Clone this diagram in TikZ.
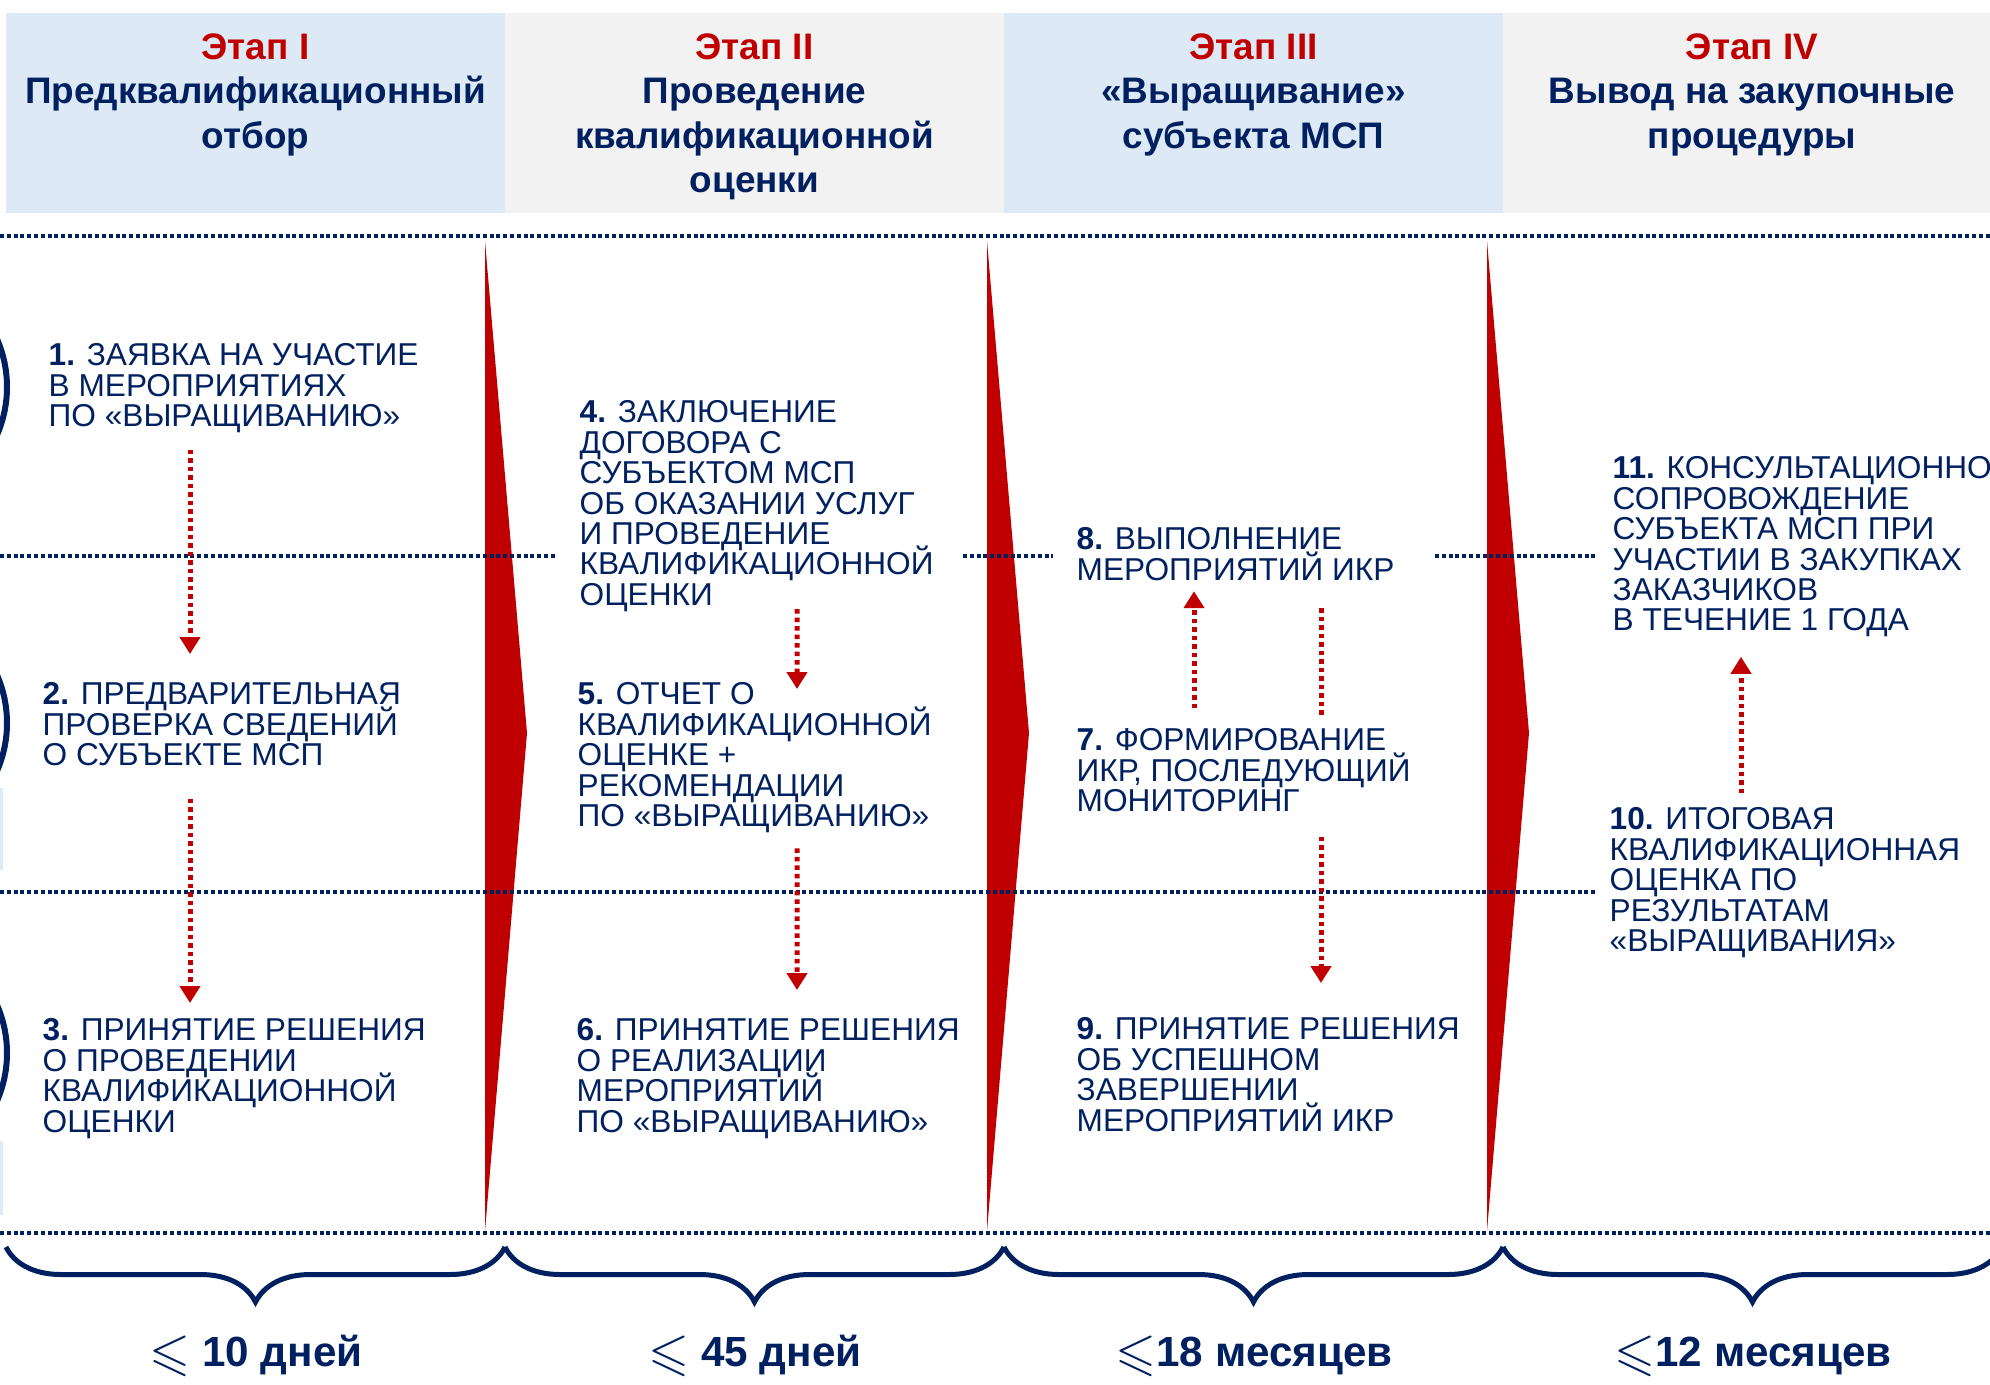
\documentclass[tikz,border=0pt]{standalone}
\usepackage{fontspec}
\setmainfont{Liberation Sans}
\usepackage{amssymb}
\usepackage{graphicx}
\usetikzlibrary{arrows.meta,decorations.pathreplacing}

\definecolor{navy}{HTML}{002060}
\definecolor{redc}{HTML}{C00000}
\definecolor{hdrblue}{HTML}{DDE9F5}
\definecolor{hdrgray}{HTML}{F2F2F2}

\newcommand{\stepfont}{\fontsize{9}{8.65}\selectfont\lineskiplimit=-\maxdimen}
\newcommand{\headfont}{\fontsize{10.5}{12.6}\selectfont\bfseries}
\newcommand{\termfont}{\fontsize{12}{14}\selectfont\bfseries}
\newcommand{\stagename}[1]{\textcolor{redc}{#1}}
\newcommand{\atmost}{\raisebox{-0.12ex}{\scalebox{1.25}{$\leqslant$}}}

\tikzset{
	item/.style={anchor=north west, inner sep=0pt, align=left, text=navy, font=\stepfont},
	head/.style={anchor=north, inner sep=0pt, align=center, text=navy, font=\headfont},
	term/.style={inner sep=0pt, text=navy, font=\termfont},
	grid/.style={navy, line width=0.33mm, dash pattern=on 0.4mm off 0.28mm},
	flow/.style={redc, line width=0.5mm, dash pattern=on 0.45mm off 0.4mm, -{Triangle[width=2mm,length=1.7mm]}},
	span/.style={navy, line width=0.5mm, decorate, decoration={brace, mirror, amplitude=5.5mm}}
}

\begin{document}
\begin{tikzpicture}[x=0.1mm, y=-0.1mm]
		%%%%% FRAME %%%%%
		\useasboundingbox (0, 0) rectangle (1990, 1384);
		\clip (0, 0) rectangle (1990, 1384);
		
		%%%%% HEADER %%%%%
		\fill[hdrblue] (6, 13) rectangle (505, 213);
		\fill[hdrgray] (505, 13) rectangle (1004, 213);
		\fill[hdrblue] (1004, 13) rectangle (1503, 213);
		\fill[hdrgray] (1503, 13) rectangle (2002, 213);
		
		\node[head] (h1) at (255.5, 33) {\stagename{Этап I}\\Предквалификационный\\отбор};
		\node[head] (h2) at (754.5, 33) {\stagename{Этап II}\\Проведение\\квалификационной\\оценки};
		\node[head] (h3) at (1253.5, 33) {\stagename{Этап III}\\«Выращивание»\\субъекта МСП};
		\node[head] (h4) at (1752, 33) {\stagename{Этап IV}\\Вывод на закупочные\\процедуры};
		
		%%%%% LEFT EDGE %%%%%
		\draw[navy, line width=0.6mm] (-113, 387) circle [radius=12mm];
		\draw[navy, line width=0.6mm] (-113, 723) circle [radius=12mm];
		\draw[navy, line width=0.6mm] (-113, 1053) circle [radius=12mm];
		\fill[hdrblue] (-10, 788) rectangle (3, 870);
		\fill[hdrblue] (-10, 1141) rectangle (3, 1215);
		
		%%%%% CHEVRONS %%%%%
		\foreach \x in {485, 987, 1487}
			\fill[redc] (\x, 241) -- (\x+42, 733) -- (\x, 1231) -- cycle;
		
		%%%%% GRID %%%%%
		\draw[grid] (0, 236) -- (1990, 236);
		\draw[grid] (0, 556) -- (555, 556);
		\draw[grid] (963, 556) -- (1053, 556);
		\draw[grid] (1435, 556) -- (1598, 556);
		\draw[grid] (0, 892) -- (1595, 892);
		\draw[grid] (0, 1233) -- (1990, 1233);
		
		%%%%% STEPS %%%%%
		\node[item] (t1) at (48, 343) {\textbf{1.} ЗАЯВКА НА УЧАСТИЕ\\В МЕРОПРИЯТИЯХ\\ПО «ВЫРАЩИВАНИЮ»};
		\node[item] (t2) at (42, 682) {\textbf{2.} ПРЕДВАРИТЕЛЬНАЯ\\ПРОВЕРКА СВЕДЕНИЙ\\О СУБЪЕКТЕ МСП};
		\node[item] (t3) at (42, 1018) {\textbf{3.} ПРИНЯТИЕ РЕШЕНИЯ\\О ПРОВЕДЕНИИ\\КВАЛИФИКАЦИОННОЙ\\ОЦЕНКИ};
		
		\node[item] (t4) at (579, 400) {\textbf{4.} ЗАКЛЮЧЕНИЕ\\ДОГОВОРА С\\СУБЪЕКТОМ МСП\\ОБ ОКАЗАНИИ УСЛУГ\\И ПРОВЕДЕНИЕ\\КВАЛИФИКАЦИОННОЙ\\ОЦЕНКИ};
		\node[item] (t5) at (577, 682) {\textbf{5.} ОТЧЕТ О\\КВАЛИФИКАЦИОННОЙ\\ОЦЕНКЕ +\\РЕКОМЕНДАЦИИ\\ПО «ВЫРАЩИВАНИЮ»};
		\node[item] (t6) at (576, 1018) {\textbf{6.} ПРИНЯТИЕ РЕШЕНИЯ\\О РЕАЛИЗАЦИИ\\МЕРОПРИЯТИЙ\\ПО «ВЫРАЩИВАНИЮ»};
		
		\node[item] (t8) at (1076, 527) {\textbf{8.} ВЫПОЛНЕНИЕ\\МЕРОПРИЯТИЙ ИКР};
		\node[item] (t7) at (1076, 728) {\textbf{7.} ФОРМИРОВАНИЕ\\ИКР, ПОСЛЕДУЮЩИЙ\\МОНИТОРИНГ};
		\node[item] (t9) at (1076, 1017) {\textbf{9.} ПРИНЯТИЕ РЕШЕНИЯ\\ОБ УСПЕШНОМ\\ЗАВЕРШЕНИИ\\МЕРОПРИЯТИЙ ИКР};
		
		\node[item] (t11) at (1612, 456) {\textbf{11.} КОНСУЛЬТАЦИОННОЕ\\СОПРОВОЖДЕНИЕ\\СУБЪЕКТА МСП ПРИ\\УЧАСТИИ В ЗАКУПКАХ\\ЗАКАЗЧИКОВ\\В ТЕЧЕНИЕ 1 ГОДА};
		\node[item] (t10) at (1609, 807) {\textbf{10.} ИТОГОВАЯ\\КВАЛИФИКАЦИОННАЯ\\ОЦЕНКА ПО\\РЕЗУЛЬТАТАМ\\«ВЫРАЩИВАНИЯ»};
		
		%%%%% FLOW %%%%%
		\draw[flow] ([xshift=14.2mm, yshift=-1.6mm]t1.south west) -- ([xshift=14.8mm, yshift=2.8mm]t2.north west);
		\draw[flow] ([xshift=14.8mm, yshift=-3.2mm]t2.south west) -- ([xshift=14.8mm, yshift=1.5mm]t3.north west);
		\draw[flow] ([xshift=21.8mm, yshift=0.3mm]t4.south west) -- ([xshift=22mm, yshift=-0.7mm]t5.north west);
		\draw[flow] ([xshift=22mm, yshift=-1.5mm]t5.south west) -- ([xshift=22.1mm, yshift=2.8mm]t6.north west);
		\draw[flow] ([xshift=11.8mm, yshift=2mm]t7.north west) -- ([xshift=11.8mm, yshift=-1mm]t8.south west);
		\draw[flow, -] ([xshift=24.5mm, yshift=-2.7mm]t8.south west) -- ([xshift=24.5mm, yshift=1.1mm]t7.north west);
		\draw[flow] ([xshift=24.5mm, yshift=-2.4mm]t7.south west) -- ([xshift=24.5mm, yshift=3.4mm]t9.north west);
		\draw[flow] ([xshift=13.2mm, yshift=1.4mm]t10.north west) -- ([xshift=12.9mm, yshift=-1.9mm]t11.south west);
		
		%%%%% DURATION %%%%%
		\draw[span] (6, 1247) -- (505, 1247);
		\draw[span] (505, 1247) -- (1004, 1247);
		\draw[span] (1004, 1247) -- (1503, 1247);
		\draw[span] (1503, 1247) -- (2002, 1247);
		
		\node[term] (b1) at (256, 1356) {\atmost\ 10 дней};
		\node[term] (b2) at (755, 1356) {\atmost\ 45 дней};
		\node[term] (b3) at (1254, 1356) {\atmost18 месяцев};
		\node[term] (b4) at (1753, 1356) {\atmost12 месяцев};
		
		%%%%% END %%%%%
	\end{tikzpicture}
\end{document}
